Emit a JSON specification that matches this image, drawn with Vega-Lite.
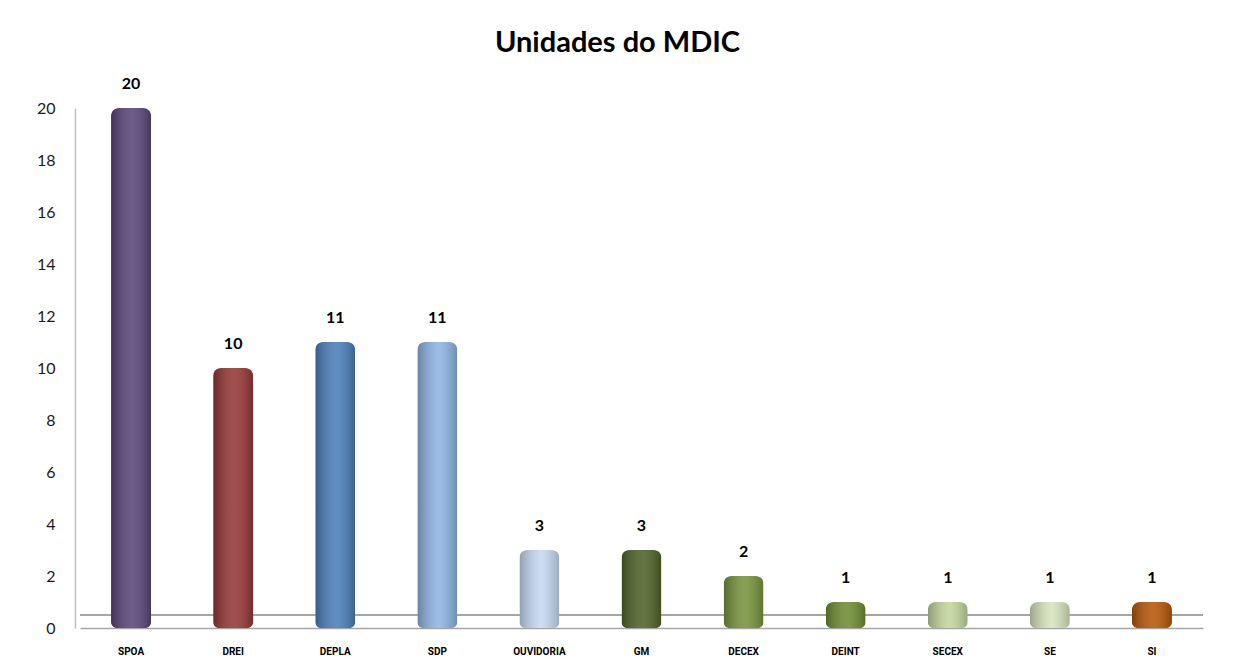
{
  "$schema": "https://vega.github.io/schema/vega-lite/v6.json",
  "width": 1123,
  "height": 520,
  "padding": {"left": 36, "top": 29, "right": 30, "bottom": 5},
  "background": "white",
  "title": {
    "text": "Unidades do MDIC",
    "font": "Lato",
    "fontSize": 29,
    "fontWeight": "bold",
    "color": "#000000",
    "anchor": "middle",
    "dx": -24,
    "offset": 18
  },
  "config": {"view": {"stroke": null}},
  "data": {
    "values": [
      {"unidade": "SPOA", "valor": 20},
      {"unidade": "DREI", "valor": 10},
      {"unidade": "DEPLA", "valor": 11},
      {"unidade": "SDP", "valor": 11},
      {"unidade": "OUVIDORIA", "valor": 3},
      {"unidade": "GM", "valor": 3},
      {"unidade": "DECEX", "valor": 2},
      {"unidade": "DEINT", "valor": 1},
      {"unidade": "SECEX", "valor": 1},
      {"unidade": "SE", "valor": 1},
      {"unidade": "SI", "valor": 1}
    ]
  },
  "encoding": {
    "x": {
      "field": "unidade",
      "type": "nominal",
      "sort": null,
      "scale": {"paddingInner": 0, "paddingOuter": 0},
      "axis": {
        "title": null,
        "labelAngle": 0,
        "labelFont": "Roboto",
        "labelFontSize": 10,
        "labelFontWeight": "bold",
        "labelColor": "#000000",
        "labelPadding": 18,
        "ticks": false,
        "domainColor": "#a6a6a6",
        "domainWidth": 1.5
      }
    },
    "y": {
      "field": "valor",
      "type": "quantitative",
      "scale": {"domain": [0, 20]},
      "axis": {
        "title": null,
        "values": [0, 2, 4, 6, 8, 10, 12, 14, 16, 18, 20],
        "grid": false,
        "ticks": false,
        "labelFont": "Lato",
        "labelFontSize": 16,
        "labelColor": "#1a1a1a",
        "labelPadding": 20,
        "offset": 5,
        "domainColor": "#bfbfbf",
        "domainWidth": 1.5
      }
    }
  },
  "layer": [
    {
      "mark": {"type": "rule", "color": "#a6a6a6", "strokeWidth": 1.5},
      "encoding": {"y": {"datum": 0.5}, "x": null}
    },
    {
      "mark": {"type": "bar", "size": 40, "cornerRadiusTopLeft": 8, "cornerRadiusTopRight": 8, "cornerRadiusBottomLeft": 6, "cornerRadiusBottomRight": 6},
      "encoding": {
        "color": {
          "field": "unidade",
          "type": "nominal",
          "legend": null,
          "scale": {
            "domain": ["SPOA", "DREI", "DEPLA", "SDP", "OUVIDORIA", "GM", "DECEX", "DEINT", "SECEX", "SE", "SI"],
            "range": ["#5a4578", "#953735", "#4a7ebb", "#8eb4e3", "#c6d9f1", "#4f6228", "#77933c", "#6e8c32", "#c3d69b", "#d7e4bd", "#b65708"]
          }
        }
      }
    },
    {
      "mark": {
        "type": "bar",
        "size": 40,
        "cornerRadiusTopLeft": 8,
        "cornerRadiusTopRight": 8,
        "cornerRadiusBottomLeft": 6,
        "cornerRadiusBottomRight": 6,
        "color": {
          "gradient": "linear",
          "x1": 0, "x2": 1, "y1": 0, "y2": 0,
          "stops": [
            {"offset": 0, "color": "rgba(0,0,0,0.28)"},
            {"offset": 0.55, "color": "rgba(255,255,255,0.12)"},
            {"offset": 1, "color": "rgba(0,0,0,0.22)"}
          ]
        }
      }
    },
    {
      "mark": {"type": "text", "dy": -24, "font": "Lato", "fontSize": 16, "fontWeight": "bold", "color": "#000000"},
      "encoding": {"text": {"field": "valor", "type": "quantitative"}}
    }
  ]
}
